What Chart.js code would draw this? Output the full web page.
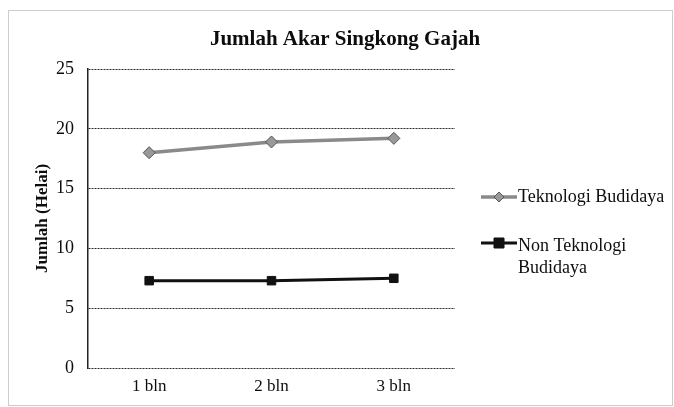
<!DOCTYPE html>
<html>
<head>
<meta charset="utf-8">
<script src="https://cdn.jsdelivr.net/npm/chart.js@4.4.1/dist/chart.umd.min.js"></script>
<style>
  html, body { margin: 0; padding: 0; background: #fff; }
  #wrap { width: 674px; height: 407px; position: relative; }
</style>
</head>
<body>
<div id="wrap"><canvas id="c" width="674" height="407"></canvas></div>
<script>
// Root count of cassava (singkong gajah) by month
const categories = ['1 bln', '2 bln', '3 bln'];
const teknologiBudidaya = [18.0, 18.9, 19.2];
const nonTeknologiBudidaya = [7.3, 7.3, 7.5];
const yTicks = [0, 5, 10, 15, 20, 25];

const chartTitle = 'Jumlah Akar Singkong Gajah';
const yAxisTitle = 'Jumlah (Helai)';
const legendLines = [['Teknologi Budidaya'], ['Non Teknologi', 'Budidaya']];

const SERIF = '"Liberation Serif", "Times New Roman", serif';
const INK = '#0d0d0d';

// Frame, title, y-axis caption and the right-hand legend
const decorations = {
  id: 'decorations',
  beforeDraw(chart) {
    const ctx = chart.ctx;
    ctx.save();
    ctx.fillStyle = '#fff';
    ctx.fillRect(0, 0, chart.width, chart.height);
    ctx.strokeStyle = '#9a9a9a';
    ctx.lineWidth = 1;
    ctx.setLineDash([1, 1]);
    ctx.strokeRect(8.5, 10.5, 664, 395);
    ctx.restore();
  },
  afterDraw(chart) {
    const ctx = chart.ctx;
    ctx.save();
    ctx.fillStyle = INK;
    ctx.textAlign = 'center';
    ctx.textBaseline = 'middle';
    ctx.font = 'bold 21px ' + SERIF;
    ctx.fillText(chartTitle, 345, 40);

    ctx.translate(43, (chart.chartArea.top + chart.chartArea.bottom) / 2);
    ctx.rotate(-Math.PI / 2);
    ctx.font = 'bold 17px ' + SERIF;
    ctx.fillText(yAxisTitle, 0, 0);
    ctx.restore();

    // legend
    ctx.save();
    const rows = [197, 243];
    chart.data.datasets.forEach((ds, i) => {
      const y = rows[i];
      ctx.setLineDash([]);
      ctx.strokeStyle = ds.borderColor;
      ctx.lineWidth = ds.borderWidth;
      ctx.beginPath();
      ctx.moveTo(481, y);
      ctx.lineTo(517, y);
      ctx.stroke();
      ctx.fillStyle = ds.pointBackgroundColor;
      ctx.strokeStyle = ds.pointBorderColor;
      ctx.lineWidth = 1;
      const cx = 499, r = ds.pointRadius - 1;
      ctx.beginPath();
      if (ds.pointStyle === 'rectRot') {
        ctx.moveTo(cx, y - r); ctx.lineTo(cx + r, y); ctx.lineTo(cx, y + r); ctx.lineTo(cx - r, y);
        ctx.closePath();
      } else {
        ctx.rect(cx - r, y - r, 2 * r, 2 * r);
      }
      ctx.fill();
      ctx.stroke();
      ctx.fillStyle = INK;
      ctx.font = '18px ' + SERIF;
      ctx.textAlign = 'left';
      ctx.textBaseline = 'middle';
      legendLines[i].forEach((t, k) => ctx.fillText(t, 518, y + (i === 0 ? 0 : 3) + k * 22));
    });
    ctx.restore();
  }
};

new Chart(document.getElementById('c'), {
  type: 'line',
  data: {
    labels: categories,
    datasets: [
      {
        label: 'Teknologi Budidaya',
        data: teknologiBudidaya,
        borderColor: '#8a8a8a',
        borderWidth: 3.5,
        pointStyle: 'rectRot',
        pointRadius: 6,
        pointBackgroundColor: '#999',
        pointBorderColor: '#555',
        pointBorderWidth: 1,
        tension: 0
      },
      {
        label: 'Non Teknologi Budidaya',
        data: nonTeknologiBudidaya,
        borderColor: '#111',
        borderWidth: 3,
        pointStyle: 'rect',
        pointRadius: 6,
        pointBackgroundColor: '#111',
        pointBorderColor: '#111',
        pointBorderWidth: 1,
        tension: 0
      }
    ]
  },
  options: {
    responsive: false,
    animation: false,
    layout: { padding: { top: 69, right: 219, bottom: 0, left: 0 } },
    plugins: {
      legend: { display: false },
      title: { display: false },
      tooltip: { enabled: false }
    },
    scales: {
      x: {
        offset: true,
        grid: { display: false },
        border: { display: false },
        ticks: { color: INK, font: { family: SERIF, size: 17 }, padding: 0 },
        afterFit(scale) { scale.height = 39; }
      },
      y: {
        min: 0,
        max: 25,
        afterBuildTicks(scale) { scale.ticks = yTicks.map(v => ({ value: v })); },
        grid: { color: '#2a2a2a', lineWidth: 1, drawTicks: false },
        border: { display: true, color: '#222', width: 1.5, dash: [2, 1] },
        ticks: { color: INK, font: { family: SERIF, size: 18 }, padding: 14 },
        afterFit(scale) { scale.width = 88; }
      }
    }
  },
  plugins: [decorations]
});
</script>
</body>
</html>
